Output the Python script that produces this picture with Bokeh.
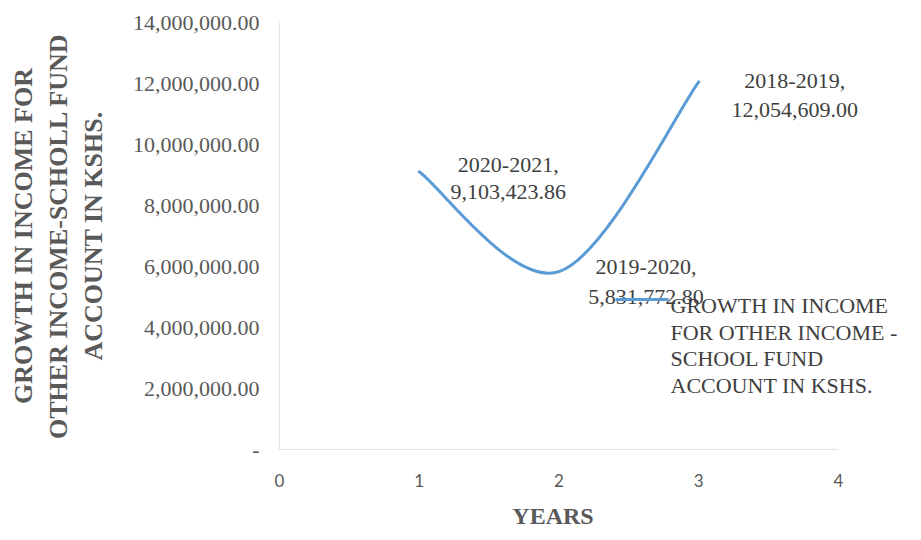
import numpy as np
from bokeh.plotting import figure
from bokeh.models import Label, BoxAnnotation, FixedTicker, Title
from bokeh.embed import file_html
from bokeh.resources import INLINE

# ---- data -------------------------------------------------------------
years = ["2020-2021", "2019-2020", "2018-2019"]
year_index = [1, 2, 3]
income = [9103423.86, 5831772.80, 12054609.00]

x_ticks = [0, 1, 2, 3, 4]
y_ticks = [0, 2000000, 4000000, 6000000, 8000000, 10000000, 12000000, 14000000]
y_tick_labels = ["-", "2,000,000.00", "4,000,000.00", "6,000,000.00",
                 "8,000,000.00", "10,000,000.00", "12,000,000.00", "14,000,000.00"]

y_title = "GROWTH IN INCOME FOR\nOTHER INCOME-SCHOLL FUND\nACCOUNT IN KSHS."
x_title = "YEARS"
legend_lines = ["GROWTH IN INCOME", "FOR OTHER INCOME -", "SCHOOL FUND", "ACCOUNT IN KSHS."]

# ---- style ------------------------------------------------------------
SERIF = "Liberation Serif"
SANS = "Lato"
BLUE = "#5B9BD5"
TICK_GREY = "#595959"
TEXT_GREY = "#404040"
AXIS_GREY = "#e4e4e4"

W, H = 921, 540
# the axes run from x=0 at px 279 to x=4 at px 838; the frame itself is
# widened to the canvas edge so the labels on the right are not clipped
AX_LEFT, AX_RIGHT, F_TOP, F_BOTTOM = 279, 838, 22, 449
X_MIN, X_AXIS_MAX = 0, 4
X_MAX = X_MIN + (W - AX_LEFT) / (AX_RIGHT - AX_LEFT) * (X_AXIS_MAX - X_MIN)
Y_MIN, Y_MAX = 0, 14000000

p = figure(width=W, height=H, output_backend="svg", toolbar_location=None,
           x_range=(X_MIN, X_MAX), y_range=(Y_MIN, Y_MAX),
           min_border_left=AX_LEFT, min_border_right=0,
           min_border_top=F_TOP, min_border_bottom=H - F_BOTTOM)
p.outline_line_color = None
p.background_fill_color = "white"
p.border_fill_color = "white"
p.xgrid.visible = False
p.ygrid.visible = False


def to_data(px, py):
    """Convert a canvas pixel position into data coordinates."""
    x = X_MIN + (px - AX_LEFT) / (AX_RIGHT - AX_LEFT) * (X_AXIS_MAX - X_MIN)
    y = Y_MIN + (F_BOTTOM - py) / (F_BOTTOM - F_TOP) * (Y_MAX - Y_MIN)
    return x, y


# axes
xa, ya = p.xaxis[0], p.yaxis[0]
xa.ticker = FixedTicker(ticks=x_ticks)
xa.bounds = (X_MIN, X_AXIS_MAX)
ya.ticker = FixedTicker(ticks=y_ticks)
ya.major_label_overrides = {t: s for t, s in zip(y_ticks, y_tick_labels)}
for ax in (xa, ya):
    ax.axis_line_color = AXIS_GREY
    ax.major_tick_line_color = None
    ax.minor_tick_line_color = None
    ax.major_label_text_color = TICK_GREY

ya.major_label_text_font = SERIF
ya.major_label_text_font_size = "22px"
ya.major_label_standoff = 14
ya.axis_label = y_title
ya.axis_label_text_color = TICK_GREY
ya.axis_label_text_font = SERIF
ya.axis_label_text_font_style = "bold"
ya.axis_label_text_font_size = "26px"
ya.axis_label_standoff = 22

xa.major_label_text_font = SANS
xa.major_label_text_font_size = "17px"
xa.major_label_standoff = 18

# x-axis title, centred under the 0..4 span of the axis
x_title_size = 24
x_title_width = 3.39 * x_title_size
p.add_layout(Title(text=x_title, align="left",
                   offset=(AX_LEFT + AX_RIGHT) / 2 - AX_LEFT - x_title_width / 2 - 6,
                   text_font=SERIF, text_font_style="bold",
                   text_font_size=f"{x_title_size}px", text_color=TICK_GREY,
                   standoff=23), "below")

# ---- smoothed line (cubic Bezier segments through the points) ----------
xs = np.asarray(year_index, dtype=float)
ys = np.asarray(income, dtype=float)
xp = np.concatenate([[xs[0]], xs, [xs[-1]]])
yp = np.concatenate([[ys[0]], ys, [ys[-1]]])
n = len(xs)
seg = np.arange(n - 1)
p.bezier(x0=xs[:-1], y0=ys[:-1], x1=xs[1:], y1=ys[1:],
         cx0=xs[:-1] + (xp[seg + 2] - xp[seg]) / 6,
         cy0=ys[:-1] + (yp[seg + 2] - yp[seg]) / 6,
         cx1=xs[1:] - (xp[seg + 3] - xp[seg + 1]) / 6,
         cy1=ys[1:] - (yp[seg + 3] - yp[seg + 1]) / 6,
         line_color=BLUE, line_width=3, line_cap="round")

# ---- data labels: "period,\nvalue" to the right of each point ----------
label_dx = [89, 87, 96]
label_dy = [(7, -20), (5, -25), (1, -28)]
for x, y, yr, dx, (dy1, dy2) in zip(year_index, income, years, label_dx, label_dy):
    for txt, dy in ((f"{yr},", dy1), (f"{y:,.2f}", dy2)):
        p.add_layout(Label(x=x, y=y, x_offset=dx, y_offset=dy, text=txt,
                           text_align="center", text_baseline="middle",
                           text_font=SERIF, text_font_size="22px",
                           text_color=TEXT_GREY))

# ---- legend -------------------------------------------------------------
lx0, ly = to_data(615, 299)
lx1, _ = to_data(668, 299)
_, dh = to_data(0, F_BOTTOM - 1.5)
p.add_layout(BoxAnnotation(left=lx0, right=lx1, bottom=ly - dh, top=ly + dh,
                           fill_color=BLUE, fill_alpha=1, line_color=None))
for i, line in enumerate(legend_lines):
    tx, ty = to_data(670, 305 + 26.5 * i)
    p.add_layout(Label(x=tx, y=ty, text=line, text_align="left",
                       text_baseline="middle", text_font=SERIF,
                       text_font_size="22px", text_color=TEXT_GREY))

open("out.html", "w").write(file_html(p, INLINE))
